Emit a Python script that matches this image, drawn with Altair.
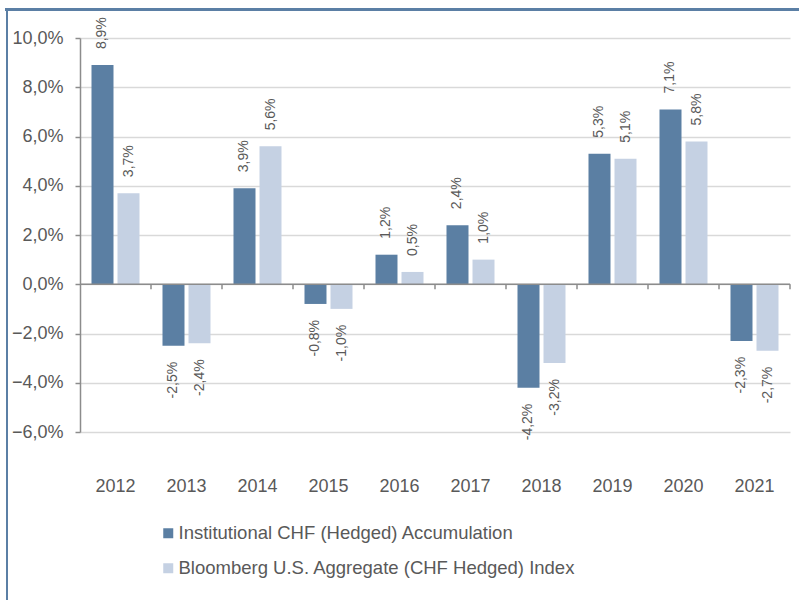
import altair as alt
import pandas as pd

years = ["2012", "2013", "2014", "2015", "2016", "2017", "2018", "2019", "2020", "2021"]
series_names = ["Institutional CHF (Hedged) Accumulation",
                "Bloomberg U.S. Aggregate (CHF Hedged) Index"]
inst = [8.9, -2.5, 3.9, -0.8, 1.2, 2.4, -4.2, 5.3, 7.1, -2.3]
bbg = [3.7, -2.4, 5.6, -1.0, 0.5, 1.0, -3.2, 5.1, 5.8, -2.7]
colors = ["#5B7FA3", "#C5D1E3"]

rows = []
for name, vals in zip(series_names, [inst, bbg]):
    for y, v in zip(years, vals):
        rows.append({"year": y, "series": name, "value": v,
                     "label": f"{v:.1f}".replace(".", ",") + "%"})
df = pd.DataFrame(rows)
ydf = pd.DataFrame({"year": years})
one = pd.DataFrame({"a": [0]})

FONT = "Liberation Sans"
TXT = "#595959"
AXC = "#8C8C8C"

yscale = alt.Scale(domain=[-6, 10], nice=False, zero=False)
xscale = alt.Scale(domain=years, paddingInner=0, paddingOuter=0)
xoff = alt.XOffset("series:N", scale=alt.Scale(domain=series_names, paddingInner=0.154, paddingOuter=0.442))

base = alt.Chart(df)

bars = base.mark_bar().encode(
    x=alt.X("year:N", scale=xscale, sort=years,
            axis=alt.Axis(title=None, domain=False, ticks=False, labelAngle=0,
                          labelFontSize=18, labelColor=TXT, labelFont=FONT,
                          labelPadding=45, grid=False)),
    xOffset=xoff,
    y=alt.Y("value:Q", scale=yscale,
            axis=alt.Axis(title=None, values=[-6, -4, -2, 0, 2, 4, 6, 8, 10],
                          labelExpr="replace(format(datum.value, '.1f'), '.', ',') + '%'",
                          labelFontSize=18, labelColor=TXT, labelFont=FONT,
                          labelPadding=12, tickSize=5, tickColor=AXC, domainColor=AXC,
                          domainWidth=1.5, tickWidth=1.5,
                          grid=True, gridColor="#D9D9D9", gridWidth=1.5)),
    color=alt.Color("series:N", scale=alt.Scale(domain=series_names, range=colors),
                    legend=alt.Legend(title=None, orient="none", legendX=79, legendY=486,
                                      symbolType="square", symbolSize=100, symbolStrokeWidth=0,
                                      labelFontSize=18.5, labelColor=TXT, labelFont=FONT,
                                      labelOffset=1, rowPadding=16, padding=0,
                                      labelLimit=600)),
)

pos_text = base.transform_filter("datum.value >= 0").mark_text(
    angle=270, align="left", baseline="middle", dx=16, fontSize=14, color=TXT, font=FONT
).encode(x=alt.X("year:N", scale=xscale, sort=years), xOffset=xoff,
         y=alt.Y("value:Q", scale=yscale), text="label:N")

neg_text = base.transform_filter("datum.value < 0").mark_text(
    angle=270, align="right", baseline="middle", dx=-16, fontSize=14, color=TXT, font=FONT
).encode(x=alt.X("year:N", scale=xscale, sort=years), xOffset=xoff,
         y=alt.Y("value:Q", scale=yscale), text="label:N")

zero_line = alt.Chart(one).mark_rule(color=AXC, strokeWidth=1.5).encode(
    y=alt.datum(0), x=alt.value(0), x2=alt.value(710))

cat_ticks = alt.Chart(ydf).mark_rule(color=AXC, strokeWidth=1.5).encode(
    x=alt.X("year:N", scale=xscale, sort=years, bandPosition=1),
    y=alt.datum(0), y2=alt.datum(-0.2))

top_border = alt.Chart(one).mark_rule(color="#5B7FA5", strokeWidth=3).encode(
    x=alt.value(-75), x2=alt.value(720), y=alt.value(-28.5))
left_border = alt.Chart(one).mark_rule(color="#5B7FA5", strokeWidth=2).encode(
    x=alt.value(-73), y=alt.value(-30), y2=alt.value(565))

chart = alt.layer(bars, zero_line, cat_ticks, pos_text, neg_text, top_border, left_border).properties(
    width=710, height=394,
    padding={"left": 80, "top": 38, "right": 9, "bottom": 168},
    autosize=alt.AutoSizeParams(type="none"),
    background="white",
).configure_view(stroke=None).configure_axis(labelFont=FONT)

chart.save("out.html", embed_options={"renderer": "svg", "actions": False})
